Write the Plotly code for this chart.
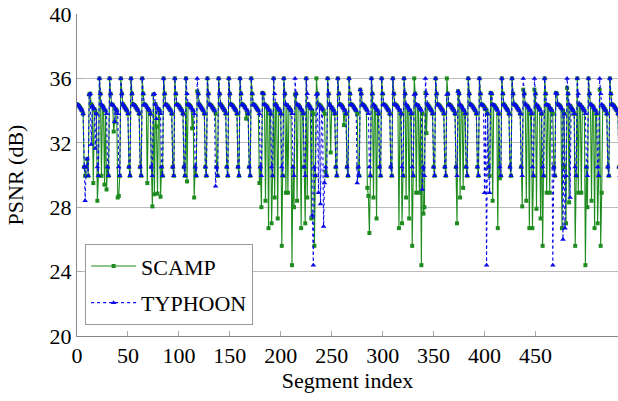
import plotly.graph_objects as go

# ---- data (segment index -> PSNR dB) ----
PEAKS = [12, 22, 32, 43, 53, 64, 75, 85, 96, 107, 118, 128, 139, 149, 160, 171, 182,
         193, 203, 214, 225, 235, 246, 256, 267, 278, 289, 299, 310, 321, 331, 342, 352,
         363, 374, 384, 395, 406, 417, 427, 438, 449, 459, 470, 481, 491, 502, 513, 523, 534]
START = [34.4, 34.35, 34.3, 34.2, 34.1, 34.0, 33.8, 30.5, 29.95, 30.5, 31.0, 29.95]
PEAK_TOP = 36.0
AFTER_PEAK = 35.05
PLATEAU_11 = [34.4, 34.35, 34.3, 34.2, 34.1, 34.0, 33.8]
PLATEAU_10 = [34.4, 34.3, 34.2, 34.1, 34.0, 33.8]
TROUGH = [30.5, 29.95]

SCAMP_PEAK = {12: 35.0, 75: 35.0, 118: 35.2, 182: 35.1, 214: 35.0, 278: 35.3, 342: 35.1,
              374: 35.2, 406: 35.1, 438: 35.3, 449: 35.3, 470: 35.1, 481: 35.4, 513: 35.3}
TYPHOON_PEAK = {12: 35.0, 75: 35.0, 182: 35.1, 235: 35.0, 278: 35.3, 331: 35.0,
                363: 35.0, 374: 35.2, 406: 35.1, 470: 35.1}

SCAMP_DIPS = {16: 29.5, 20: 28.4, 24: 29.95, 27: 29.4, 29: 29.1, 36: 32.7, 37: 33.3,
              40: 28.6, 41: 28.7, 69: 29.5, 74: 28.05, 76: 28.8, 78: 33.0, 79: 28.85,
              82: 28.65, 108: 29.6, 113: 32.9, 115: 28.6, 166: 33.5, 179: 29.5, 181: 28.0,
              185: 28.4, 188: 26.7, 191: 27.0, 194: 28.6, 197: 27.3, 201: 25.6, 205: 28.9,
              207: 28.9, 211: 24.4, 213: 28.0, 216: 28.4, 220: 26.7, 224: 27.0, 226: 28.6,
              230: 27.3, 233: 25.6, 244: 30.2, 249: 31.4, 262: 33.1, 285: 29.2, 286: 28.7,
              287: 26.4, 291: 28.6, 294: 27.3, 316: 26.7, 319: 27.0, 323: 28.6, 326: 27.3,
              329: 25.6, 333: 28.9, 336: 28.9, 338: 24.4, 340: 27.6, 341: 28.0, 343: 32.6,
              373: 27.0, 376: 28.6, 379: 29.2, 408: 28.4, 413: 26.7, 415: 29.8, 437: 28.05,
              441: 28.4, 444: 26.7, 447: 26.7, 451: 27.9, 455: 27.3, 457: 25.6, 461: 28.9,
              464: 28.9, 476: 26.7, 480: 27.0, 483: 28.3, 489: 25.6, 492: 28.9, 495: 28.9,
              499: 24.4, 501: 28.0, 505: 28.4, 508: 26.7, 511: 27.0, 514: 25.6, 515: 28.9}
TYPHOON_DIPS = {8: 28.4, 14: 31.9, 18: 31.65, 37: 33.3, 78: 33.5, 136: 29.3, 231: 27.5,
                232: 24.4, 237: 28.9, 239: 28.2, 242: 26.8, 243: 29.5, 275: 29.5,
                339: 29.1, 400: 28.9, 402: 24.4, 405: 28.9, 467: 24.4, 477: 26.0,
                479: 26.7, 484: 28.6}

X_TICKS = [0, 50, 100, 150, 200, 250, 300, 350, 400, 450]
Y_TICKS = [20, 24, 28, 32, 36, 40]


def build(peak_vals, dips):
    y = list(START)
    for j in range(len(PEAKS) - 1):
        p, q = PEAKS[j], PEAKS[j + 1]
        plateau = PLATEAU_11 if q - p == 11 else PLATEAU_10
        y += [peak_vals.get(p, PEAK_TOP), AFTER_PEAK] + plateau + TROUGH
    for i, v in dips.items():
        y[i] = v
    return y


scamp = build(SCAMP_PEAK, SCAMP_DIPS)
typhoon = build(TYPHOON_PEAK, TYPHOON_DIPS)
seg = list(range(len(scamp)))

FONT = "Liberation Serif"
GREEN = "rgb(30,140,30)"
BLUE = "rgb(10,10,235)"

fig = go.Figure()
fig.add_trace(go.Scatter(x=seg, y=scamp, mode="lines+markers", name="SCAMP",
                         legendgroup="a",
                         line=dict(color=GREEN, width=1.1),
                         marker=dict(symbol="square", size=4, color=GREEN)))
fig.add_trace(go.Scatter(x=seg, y=typhoon, mode="lines+markers", name="TYPHOON",
                         legendgroup="b",
                         line=dict(color=BLUE, width=1.1, dash="dot"),
                         marker=dict(symbol="triangle-up", size=5, color=BLUE)))

fig.update_layout(
    width=618, height=401,
    margin=dict(l=77, r=0, t=14, b=65),
    paper_bgcolor="white", plot_bgcolor="white",
    font=dict(family=FONT, size=22, color="black"),
    showlegend=True,
    legend=dict(x=0.015, y=0.285, xanchor="left", yanchor="top",
                bgcolor="white", bordercolor="#999", borderwidth=1,
                tracegroupgap=5, itemwidth=45,
                font=dict(family=FONT, size=22, color="black")),
    xaxis=dict(range=[0, 531], tickvals=X_TICKS, showgrid=False, zeroline=False,
               showline=True, linecolor="#888", ticks="inside", ticklen=5,
               tickcolor="#aaa", tickfont=dict(family=FONT, size=22, color="black"),
               title=dict(text="Segment index", standoff=5,
                          font=dict(family=FONT, size=22, color="black"))),
    yaxis=dict(range=[20, 40], tickvals=Y_TICKS, showgrid=True, gridcolor="#bbb",
               zeroline=False, showline=True, linecolor="#888", ticks="inside",
               ticklen=5, tickcolor="#aaa", tickfont=dict(family=FONT, size=22, color="black"),
               title=dict(text="PSNR (dB)", standoff=19,
                          font=dict(family=FONT, size=22, color="black"))),
)

fig.write_html("out.html")
